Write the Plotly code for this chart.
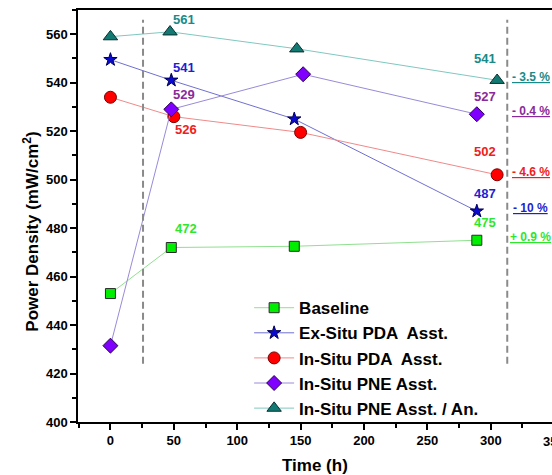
import plotly.graph_objects as go

## values
names = ["Baseline", "Ex-Situ PDA  Asst.", "In-Situ PDA  Asst.", "In-Situ PNE Asst.", "In-Situ PNE Asst. / An."]

t_base = [0, 48, 145, 289]
p_base = [453, 472, 472.5, 475]

t_exsitu = [0, 48, 145, 289]
p_exsitu = [549.5, 541, 525, 487]

t_pda = [0, 50, 150, 305]
p_pda = [534, 526, 519.5, 502]

t_pne = [0, 48, 152, 289]
p_pne = [431.5, 529, 543.5, 527]

t_pne_an = [0, 47, 147, 305]
p_pne_an = [559, 561, 554, 541]

change_labels = ["+ 0.9 %", "- 10 %", "- 4.6 %", "- 0.4 %", "- 3.5 %"]

x_ticks = [0, 50, 100, 150, 200, 250, 300]
y_ticks = [400, 420, 440, 460, 480, 500, 520, 540, 560]
dash_times = [25.7, 313]

FONT = "Liberation Sans, Arial, sans-serif"

series = [
    # times, values, symbol, size, fill, outline, line colour, label colour
    (t_base, p_base, "square", 10, "#00ee00", "#2a2a2a", "#90e090", "#2ee62e"),
    (t_exsitu, p_exsitu, "star", 10, "#0a0ad0", "#000050", "#7070d0", "#1f1fd0"),
    (t_pda, p_pda, "circle", 12, "#ff0000", "#7a0000", "#f08a8a", "#ee2020"),
    (t_pne, p_pne, "diamond", 11.5, "#8000ff", "#2a0050", "#9a8ad8", "#8a2a9a"),
    (t_pne_an, p_pne_an, "triangle-up", 12.5, "#127a72", "#0a2f2f", "#80c8c0", "#1a8a88"),
]

fig = go.Figure()

for name, (tt, pp, sym, sz, fill, edge, lcol, _) in zip(names, series):
    fig.add_trace(go.Scatter(
        x=tt, y=pp, mode="lines+markers", name=name,
        line=dict(color=lcol, width=1),
        marker=dict(symbol=sym, size=sz, color=fill, line=dict(color=edge, width=1)),
    ))

# value labels next to the 2nd and last points (pixel offsets)
shift_2nd = [(15, 19), (13, 13), (12, -13), (13, 15), (14, 12)]
shift_last = [(8, 18), (8, 18), (-12, 23), (8, 18), (-12, 22)]
for (tt, pp, *_rest), s2, sl, pct in zip(series, shift_2nd, shift_last, change_labels):
    col = _rest[-1]
    for idx, (dx, dy) in ((1, s2), (3, sl)):
        fig.add_annotation(x=tt[idx], y=pp[idx], text="<b>%d</b>" % int(pp[idx]),
                           showarrow=False, xshift=dx, yshift=dy,
                           font=dict(family=FONT, size=13, color=col))
    fig.add_annotation(x=331.5, y=pp[3], text="<b><u>%s</u></b>" % pct,
                       showarrow=False, yshift=3, xanchor="center",
                       font=dict(family=FONT, size=12, color=col))

for t in dash_times:
    fig.add_shape(type="line", x0=t, x1=t, y0=424, y1=566, xref="x", yref="y",
                  line=dict(color="#8a8a8a", width=2, dash="7px,4px"))

# axis titles and the clipped last tick label
fig.add_annotation(xref="paper", yref="paper", x=-0.1, y=0.461, textangle=-90,
                   xanchor="center", yanchor="middle",
                   text="<b>Power Density (mW/cm<sup>2</sup>)</b>", showarrow=False,
                   font=dict(family=FONT, size=17, color="black"))
fig.add_annotation(xref="paper", yref="paper", x=0.5, y=-0.105,
                   xanchor="center", yanchor="middle",
                   text="<b>Time (h)</b>", showarrow=False,
                   font=dict(family=FONT, size=17, color="black"))
fig.add_annotation(xref="paper", yref="paper", x=1.004, y=-0.047,
                   xanchor="center", yanchor="middle",
                   text="<b>350</b>", showarrow=False,
                   font=dict(family=FONT, size=13, color="black"))

fig.update_xaxes(range=[-25.6, 348.3], tickvals=x_ticks, showgrid=False, zeroline=False,
                 showline=True, linecolor="black", linewidth=1.5, mirror=True,
                 ticks="outside", ticklen=6, tickwidth=1.5, tickcolor="black",
                 minor=dict(dtick=25, tick0=0, ticks="outside", ticklen=4, tickcolor="black", tickwidth=1.5),
                 tickfont=dict(family=FONT, size=13, color="black", weight="bold"))
fig.update_yaxes(range=[400, 570], tickvals=y_ticks, showgrid=False, zeroline=False,
                 showline=True, linecolor="black", linewidth=1.5,
                 ticks="outside", ticklen=6, tickwidth=1.5, tickcolor="black",
                 minor=dict(dtick=10, tick0=400, ticks="outside", ticklen=4, tickcolor="black", tickwidth=1.5),
                 tickfont=dict(family=FONT, size=13, color="black", weight="bold"))

fig.update_layout(
    width=552, height=475,
    margin=dict(l=78, r=0, t=10, b=53),
    plot_bgcolor="white", paper_bgcolor="white",
    font=dict(family=FONT),
    legend=dict(x=0.361, y=0.32, xanchor="left", yanchor="top",
                bgcolor="rgba(0,0,0,0)", itemwidth=40,
                font=dict(family=FONT, size=17, color="black", weight="bold")),
)

# drop the default body margin / scrollbars so the figure fills the window
fig.write_html("out.html", config={"displayModeBar": False},
               post_script="document.body.style.margin='0';document.body.style.overflow='hidden';")
